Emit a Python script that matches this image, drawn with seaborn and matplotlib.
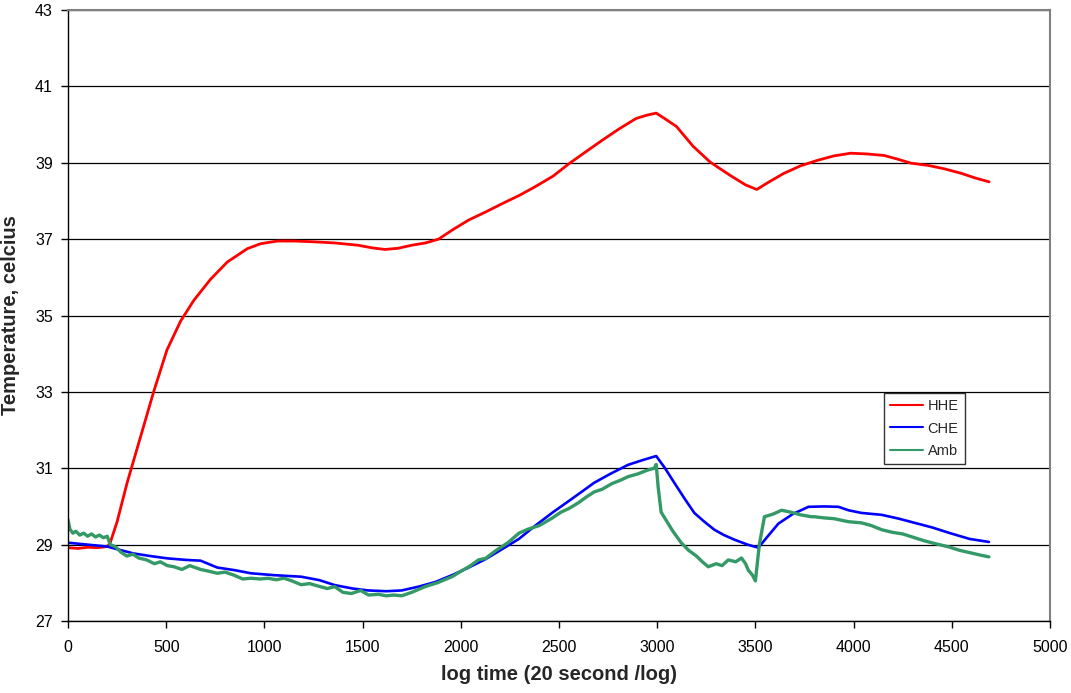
import matplotlib
matplotlib.use("Agg")
import matplotlib.pyplot as plt
import seaborn as sns
import pandas as pd

# ---- data ----
hhe_x = [0, 50, 100, 150, 200, 215, 250, 300, 368, 436, 504, 573, 641, 726, 811, 913, 981, 1066,
         1150, 1250, 1358, 1477, 1550, 1614, 1680, 1750, 1820, 1887, 1960, 2040, 2130, 2211, 2300,
         2381, 2470, 2552, 2640, 2723, 2810, 2893, 2950, 2995, 3040, 3098, 3183, 3269, 3371, 3450,
         3507, 3570, 3644, 3730, 3814, 3900, 3985, 4070, 4156, 4220, 4292, 4380, 4463, 4550, 4620, 4690]
hhe_y = [28.92, 28.9, 28.93, 28.92, 28.95, 29.05, 29.6, 30.6, 31.8, 33.0, 34.1, 34.85, 35.4, 35.95,
         36.4, 36.75, 36.88, 36.95, 36.95, 36.93, 36.9, 36.84, 36.77, 36.73, 36.76, 36.84, 36.9, 37.0,
         37.25, 37.5, 37.72, 37.93, 38.15, 38.38, 38.65, 38.98, 39.3, 39.6, 39.9, 40.16, 40.25, 40.3,
         40.15, 39.95, 39.43, 39.02, 38.67, 38.42, 38.3, 38.5, 38.72, 38.92, 39.06, 39.18, 39.25, 39.23,
         39.19, 39.1, 38.99, 38.93, 38.84, 38.72, 38.6, 38.5]

che_x = [0, 100, 200, 250, 333, 420, 506, 600, 675, 760, 850, 931, 1050, 1187, 1280, 1358, 1450,
         1529, 1620, 1699, 1785, 1870, 1955, 2040, 2126, 2210, 2296, 2380, 2467, 2552, 2620, 2679,
         2760, 2852, 2930, 2995, 3040, 3087, 3140, 3189, 3240, 3291, 3340, 3393, 3460, 3515, 3560,
         3617, 3690, 3770, 3850, 3923, 3974, 4040, 4143, 4230, 4311, 4400, 4485, 4590, 4689]
che_y = [29.05, 29.0, 28.95, 28.88, 28.77, 28.7, 28.64, 28.6, 28.58, 28.4, 28.33, 28.25, 28.2, 28.16,
         28.07, 27.94, 27.85, 27.8, 27.78, 27.8, 27.9, 28.02, 28.2, 28.4, 28.62, 28.88, 29.15, 29.5,
         29.84, 30.15, 30.4, 30.62, 30.85, 31.09, 31.22, 31.32, 31.0, 30.62, 30.2, 29.83, 29.6, 29.39,
         29.25, 29.13, 29.0, 28.92, 29.2, 29.55, 29.8, 29.99, 30.0, 29.99, 29.9, 29.83, 29.78, 29.68,
         29.57, 29.45, 29.31, 29.15, 29.07]

amb_x = [0, 10, 25, 40, 60, 80, 100, 120, 140, 160, 180, 200, 215, 240, 270, 300, 330, 360, 400, 440,
         470, 506, 540, 580, 620, 675, 720, 760, 800, 845, 890, 931, 980, 1018, 1060, 1100, 1140, 1187,
         1230, 1270, 1320, 1358, 1400, 1443, 1490, 1530, 1580, 1620, 1660, 1699, 1750, 1818, 1880, 1955,
         2000, 2050, 2090, 2126, 2180, 2240, 2296, 2340, 2400, 2467, 2510, 2552, 2600, 2640, 2679, 2720,
         2770, 2810, 2852, 2900, 2950, 2985, 2995, 3005, 3020, 3050, 3080, 3122, 3160, 3200, 3230, 3260,
         3300, 3330, 3362, 3400, 3429, 3450, 3464, 3485, 3500, 3520, 3546, 3590, 3633, 3680, 3730, 3786,
         3800, 3850, 3900, 3974, 4040, 4090, 4143, 4200, 4250, 4311, 4360, 4420, 4485, 4540, 4600, 4650, 4689]
amb_y = [29.65, 29.4, 29.3, 29.35, 29.25, 29.3, 29.22, 29.28, 29.2, 29.25, 29.18, 29.22, 29.0, 28.95,
         28.8, 28.7, 28.75, 28.65, 28.6, 28.5, 28.55, 28.45, 28.42, 28.35, 28.45, 28.35, 28.3, 28.25,
         28.28, 28.2, 28.1, 28.12, 28.1, 28.12, 28.08, 28.12, 28.05, 27.95, 27.98, 27.92, 27.85, 27.9,
         27.75, 27.72, 27.8, 27.68, 27.7, 27.66, 27.68, 27.66, 27.75, 27.9, 28.0, 28.16, 28.3, 28.45,
         28.6, 28.64, 28.85, 29.05, 29.3, 29.4, 29.5, 29.7, 29.85, 29.95, 30.1, 30.25, 30.38, 30.45,
         30.6, 30.68, 30.78, 30.85, 30.95, 31.0, 31.1, 30.5, 29.85, 29.6, 29.35, 29.05, 28.85, 28.7,
         28.55, 28.42, 28.5, 28.45, 28.6, 28.55, 28.65, 28.5, 28.33, 28.2, 28.05, 29.0, 29.73, 29.8,
         29.9, 29.85, 29.78, 29.73, 29.73, 29.7, 29.68, 29.6, 29.57, 29.5, 29.39, 29.32, 29.28, 29.18,
         29.1, 29.02, 28.94, 28.85, 28.78, 28.72, 28.68]

series_names = ["HHE", "CHE", "Amb"]
series_colors = ["#FF0000", "#0000FF", "#339966"]
x_ticks = [0, 500, 1000, 1500, 2000, 2500, 3000, 3500, 4000, 4500, 5000]
y_ticks = [27, 29, 31, 33, 35, 37, 39, 41, 43]

df = pd.concat([
    pd.DataFrame({"t": hhe_x, "temp": hhe_y, "series": "HHE"}),
    pd.DataFrame({"t": che_x, "temp": che_y, "series": "CHE"}),
    pd.DataFrame({"t": amb_x, "temp": amb_y, "series": "Amb"}),
], ignore_index=True)

sns.set_theme(style="white")
plt.rcParams["font.family"] = ["Liberation Sans", "DejaVu Sans"]

fig = plt.figure(figsize=(10.71, 6.93), dpi=100)
ax = fig.add_axes([68 / 1071, 1 - 621 / 693, (1050 - 68) / 1071, (621 - 10) / 693])

sns.lineplot(data=df, x="t", y="temp", hue="series", hue_order=series_names,
             palette=dict(zip(series_names, series_colors)), estimator=None, sort=False,
             linewidth=1.8, ax=ax)
for line, lw in zip(ax.get_lines()[:3], [2.0, 1.9, 2.4]):
    line.set_linewidth(lw)

ax.set_xlim(0, 5000)
ax.set_ylim(27, 43)
ax.set_xticks(x_ticks)
ax.set_yticks(y_ticks)
ax.tick_params(axis="both", which="major", labelsize=11.5, length=5, width=1,
               direction="out", colors="black")
ax.tick_params(axis="x", pad=9)
ax.tick_params(axis="y", pad=6)
ax.tick_params(axis="both", bottom=True, left=True)
ax.yaxis.grid(True, color="black", linewidth=0.9)
ax.xaxis.grid(False)
ax.set_axisbelow(True)

for side in ["left", "bottom"]:
    ax.spines[side].set_color("black")
    ax.spines[side].set_linewidth(1.0)
for side in ["top", "right"]:
    ax.spines[side].set_color("#808080")
    ax.spines[side].set_linewidth(1.5)

ax.set_xlabel("log time (20 second /log)", fontsize=14.5, fontweight="bold", labelpad=7)
ax.set_ylabel("Temperature, celcius", fontsize=14.5, fontweight="bold", labelpad=11)

handles, labels = ax.get_legend_handles_labels()
leg = ax.legend(handles, labels, loc="upper left", bbox_to_anchor=((884 - 68) / 982, (621 - 393) / 611),
                fontsize=10.5, frameon=True, fancybox=False, edgecolor="black",
                handlelength=2.3, handletextpad=0.3, borderpad=0.4, labelspacing=0.6,
                borderaxespad=0)
leg.get_frame().set_linewidth(1.0)
for lh in leg.get_lines():
    lh.set_linewidth(1.5)

fig.savefig("out.png", dpi=100)
